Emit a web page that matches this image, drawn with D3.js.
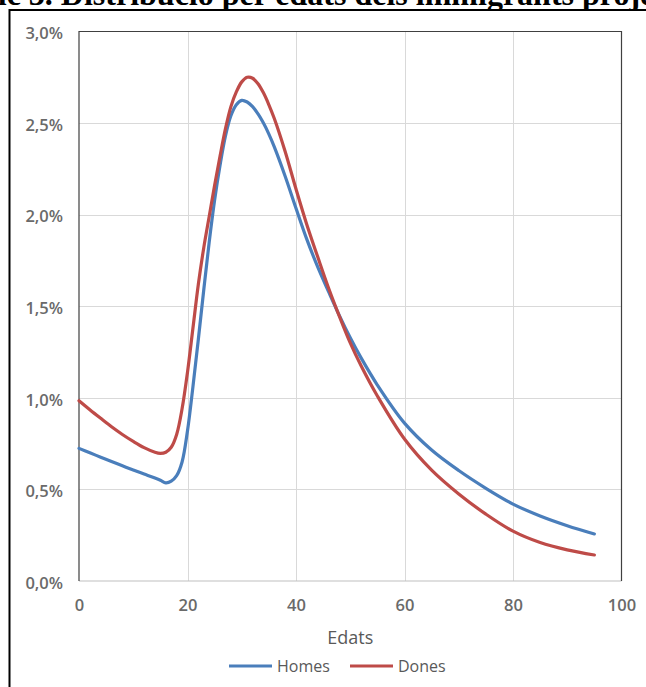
<!DOCTYPE html>
<html>
<head>
<meta charset="utf-8">
<script src="https://cdn.jsdelivr.net/npm/d3@7"></script>
<style>
html,body{margin:0;padding:0;background:#fff;}
svg{display:block;}
</style>
</head>
<body>
<svg id="chart" width="646" height="687"></svg>
<script>
// ---- data (percent of immigrants by age) ----
const ages   = [0, 2, 4, 6, 8, 10, 12, 14, 15, 16, 17, 18, 19, 20, 21, 22, 23, 24, 25, 26, 27, 28, 29, 30, 31, 32, 33, 34, 35, 36, 38, 40, 42, 44, 46, 48, 50, 52, 55, 60, 65, 70, 75, 80, 85, 90, 95];
const homes  = [0.724, 0.70, 0.676, 0.652, 0.629, 0.606, 0.584, 0.562, 0.55, 0.536, 0.545, 0.575, 0.65, 0.82, 1.06, 1.32, 1.59, 1.85, 2.08, 2.27, 2.43, 2.54, 2.60, 2.624, 2.615, 2.59, 2.55, 2.50, 2.44, 2.37, 2.21, 2.035, 1.865, 1.715, 1.58, 1.449, 1.328, 1.218, 1.07, 0.862, 0.715, 0.603, 0.506, 0.42, 0.355, 0.302, 0.257];
const dones  = [0.984, 0.935, 0.888, 0.842, 0.80, 0.762, 0.728, 0.703, 0.697, 0.703, 0.73, 0.80, 0.94, 1.14, 1.38, 1.62, 1.82, 1.99, 2.16, 2.32, 2.47, 2.59, 2.67, 2.725, 2.75, 2.745, 2.715, 2.665, 2.60, 2.525, 2.345, 2.14, 1.945, 1.77, 1.60, 1.445, 1.30, 1.175, 1.01, 0.775, 0.605, 0.475, 0.365, 0.272, 0.21, 0.17, 0.142];
const xTicks = [0, 20, 40, 60, 80, 100];
const yTicks = [0, 0.5, 1.0, 1.5, 2.0, 2.5, 3.0];
const seriesNames = ["Homes", "Dones"];
const seriesColors = ["#4a7ebb", "#be4b48"];
const titleText = "Gràfic 3. Distribució per edats dels immigrants projectats";
const xTitle = "Edats";

const svg = d3.select("#chart");
const plot = {left: 79, right: 621.5, top: 31.5, bottom: 581};

const x = d3.scaleLinear().domain([0, 100]).range([plot.left, plot.right]);
const y = d3.scaleLinear().domain([0, 3]).range([plot.bottom, plot.top]);

const fmt = d3.formatLocale({decimal: ",", thousands: ".", grouping: [3], currency: ["", "€"]}).format(".1f");

// title (clipped at top of image)
svg.append("text")
  .attr("x", -68).attr("y", 5)
  .attr("font-family", "'Liberation Serif', 'Times New Roman', serif")
  .attr("font-weight", "bold").attr("font-size", 32)
  .attr("fill", "#000")
  .text(titleText);

// outer frame
svg.append("rect")
  .attr("x", 9.5).attr("y", 10).attr("width", 700).attr("height", 700)
  .attr("fill", "#fff").attr("stroke", "#000").attr("stroke-width", 2);

// gridlines
const g = svg.append("g");
g.selectAll("line.h").data(yTicks.filter(d => d > 0 && d < 3)).join("line")
  .attr("x1", plot.left).attr("x2", plot.right)
  .attr("y1", d => Math.round(y(d)) + 0.5).attr("y2", d => Math.round(y(d)) + 0.5)
  .attr("stroke", "#d9d9d9").attr("stroke-width", 1);
g.selectAll("line.v").data(xTicks.filter(d => d > 0 && d < 100)).join("line")
  .attr("y1", plot.top).attr("y2", plot.bottom)
  .attr("x1", d => Math.round(x(d)) + 0.5).attr("x2", d => Math.round(x(d)) + 0.5)
  .attr("stroke", "#d9d9d9").attr("stroke-width", 1);

// plot border
svg.append("line").attr("x1", plot.left).attr("x2", plot.right).attr("y1", plot.bottom).attr("y2", plot.bottom)
  .attr("stroke", "#bfbfbf").attr("stroke-width", 1);
svg.append("path")
  .attr("d", `M${plot.left},${plot.bottom}V${plot.top}H${plot.right}V${plot.bottom}`)
  .attr("fill", "none").attr("stroke", "#404040").attr("stroke-width", 1.2);

// axes
const xAxis = d3.axisBottom(x).tickValues(xTicks).tickSize(0).tickPadding(0).tickFormat(d3.format("d"));
const xa = svg.append("g").attr("transform", `translate(0,${plot.bottom})`).call(xAxis);
xa.select(".domain").remove();
xa.selectAll("text").attr("dy", null).attr("y", 30)
  .attr("font-family", "'Open Sans', sans-serif").attr("font-weight", 600).attr("font-size", 16.5)
  .attr("fill", "#6a6a6a");

const yAxis = d3.axisLeft(y).tickValues(yTicks).tickSize(0).tickPadding(0).tickFormat(d => fmt(d) + "%");
const ya = svg.append("g").attr("transform", `translate(${plot.left - 16},0)`).call(yAxis);
ya.select(".domain").remove();
ya.selectAll("text").attr("dy", "0.32em").attr("y", 2)
  .attr("font-family", "'Open Sans', sans-serif").attr("font-weight", 600).attr("font-size", 16.5)
  .attr("fill", "#6a6a6a");

// lines
const line = d3.line().x(d => x(d[0])).y(d => y(d[1])).curve(d3.curveCatmullRom.alpha(0.5));
[homes, dones].forEach((vals, i) => {
  svg.append("path")
    .datum(ages.map((a, j) => [a, vals[j]]))
    .attr("d", line)
    .attr("fill", "none")
    .attr("stroke", seriesColors[i])
    .attr("stroke-width", 3.2)
    .attr("stroke-linejoin", "round")
    .attr("stroke-linecap", "round");
});

// x axis title
svg.append("text")
  .attr("x", (plot.left + plot.right) / 2).attr("y", 644)
  .attr("text-anchor", "middle")
  .attr("font-family", "'Open Sans', sans-serif").attr("font-size", 18)
  .attr("fill", "#595959")
  .text(xTitle);

// legend
const legendX = [229, 350];
seriesNames.forEach((name, i) => {
  svg.append("line")
    .attr("x1", legendX[i]).attr("x2", legendX[i] + 43)
    .attr("y1", 666).attr("y2", 666)
    .attr("stroke", seriesColors[i]).attr("stroke-width", 3.2);
  svg.append("text")
    .attr("x", legendX[i] + 48).attr("y", 666).attr("dy", "0.35em")
    .attr("font-family", "'Open Sans', sans-serif").attr("font-size", 16)
    .attr("fill", "#595959")
    .text(name);
});
</script>
</body>
</html>
